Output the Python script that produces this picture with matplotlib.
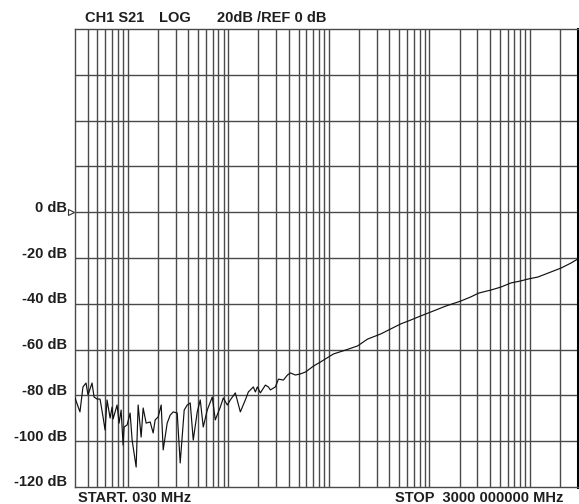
import numpy as np
import matplotlib
matplotlib.use("Agg")
import matplotlib.pyplot as plt
from matplotlib.transforms import blended_transform_factory, offset_copy

# ---- data ----
freq_mhz = [
    0.0300, 0.0336, 0.0360, 0.0386, 0.0404, 0.0443, 0.0464, 0.0497, 0.0532, 0.0570,
    0.0597, 0.0625, 0.0670, 0.0701, 0.0717, 0.0786, 0.0823, 0.0862, 0.0902, 0.0923,
    0.0989, 0.1059, 0.1109, 0.1216, 0.1273, 0.1363, 0.1427, 0.1529, 0.1676, 0.1795,
    0.1879, 0.2013, 0.2157, 0.2258, 0.2474, 0.2651, 0.2840, 0.3112, 0.3333, 0.3653,
    0.3914, 0.4194, 0.4493, 0.4924, 0.5275, 0.5649, 0.6191, 0.6944, 0.7438, 0.8344,
    0.8938, 0.9795, 1.049, 1.177, 1.320, 1.480, 1.586, 1.778, 1.862, 1.949,
    2.088, 2.342, 2.508, 2.626, 2.945, 3.155, 3.539, 3.879, 4.154, 4.660,
    5.226, 5.861, 7.041, 8.268, 11.14, 14.67, 19.32, 24.29, 32.73, 41.17,
    51.80, 65.14, 81.92, 103.0, 145.3, 205.0, 257.8, 309.8, 407.9, 513.1,
    645.3, 811.6, 953.1, 1199.0, 1615.0, 2032.0, 2555.0, 3000.0,
]
s21_db = [
    -81.1, -87.2, -76.3, -74.6, -79.8, -74.6, -80.7, -81.6, -81.6, -89.4,
    -95.1, -82.0, -89.9, -85.1, -90.3, -84.2, -92.1, -86.4, -101.7, -93.8,
    -92.9, -87.7, -99.5, -111.3, -84.2, -98.2, -85.5, -92.1, -91.6, -96.4,
    -90.7, -89.4, -84.2, -103.8, -92.1, -88.6, -87.2, -87.7, -109.5, -86.4,
    -84.2, -83.3, -99.5, -87.2, -82.0, -93.8, -86.4, -80.7, -90.7, -85.1,
    -81.1, -84.2, -82.0, -78.9, -87.2, -82.0, -78.5, -76.3, -78.5, -76.3,
    -78.9, -75.5, -76.3, -77.6, -76.3, -72.9, -73.3, -71.1, -70.2, -71.1,
    -70.6, -69.8, -67.2, -65.4, -61.9, -60.2, -58.4, -55.4, -53.2, -51.0,
    -48.8, -47.1, -45.3, -43.6, -41.0, -38.8, -37.0, -35.3, -34.0, -32.7,
    -30.9, -30.0, -29.2, -28.3, -26.1, -24.4, -22.2, -20.4,
]

f_start, f_stop = 0.03, 3000.0
db_min, db_max, db_step = -120, 80, 20
y_labels = ["0 dB", "-20 dB", "-40 dB", "-60 dB", "-80 dB", "-100 dB", "-120 dB"]
y_label_vals = [0, -20, -40, -60, -80, -100, -120]
title_parts = ["CH1 S21", "LOG", "20dB /REF 0 dB"]
start_text = "START. 030 MHz"
stop_text = "STOP  3000 000000 MHz"

plt.rcParams['font.family'] = ['Liberation Sans', 'DejaVu Sans']

W, H = 579, 504
fig = plt.figure(figsize=(W / 100, H / 100), dpi=100)
fig.patch.set_facecolor("white")
ax = fig.add_axes([75 / W, 17 / H, 503 / W, 458 / H])
ax.set_xscale("log")
ax.set_xlim(f_start, f_stop)
ax.set_ylim(db_min, db_max)

grid_col = "#4a4a4a"
# vertical log grid
for dec in range(-2, 4):
    for m in range(1, 10):
        v = m * 10.0 ** dec
        if f_start < v < f_stop:
            ax.axvline(v, color=grid_col, lw=1.0, zorder=1)
for v in range(db_min + db_step, db_max, db_step):
    ax.axhline(v, color=grid_col, lw=1.0, zorder=1)

ax.plot(freq_mhz, s21_db, color="#111111", lw=0.85, zorder=3)

ax.set_xticks([])
ax.set_yticks([])
ax.minorticks_off()
for side in ["left", "bottom", "top"]:
    ax.spines[side].set_color(grid_col)
    ax.spines[side].set_linewidth(1.0)
ax.spines["right"].set_color("#000000")
ax.spines["right"].set_linewidth(2.2)

fs = 10.5
txt_col = "#1e1e1e"

# y labels
tr = blended_transform_factory(ax.transAxes, ax.transData)
tr_lab = offset_copy(tr, fig=fig, x=-0.08, y=0.045, units="inches")
for lab, v in zip(y_labels, y_label_vals):
    ax.text(0, v, lab, transform=tr_lab, ha="right", va="center",
            fontsize=fs, fontweight="bold", color=txt_col)

# reference marker
ax.plot([-0.008], [0], marker=">", ms=5, mfc="white", mec="#333333", mew=0.8,
        transform=tr, clip_on=False, zorder=4)

# title and footer
fig.text(85 / W, 1 - 18 / H, title_parts[0], ha="left", va="center",
         fontsize=fs, fontweight="bold", color=txt_col)
fig.text(159 / W, 1 - 18 / H, title_parts[1], ha="left", va="center",
         fontsize=fs, fontweight="bold", color=txt_col)
fig.text(217 / W, 1 - 18 / H, title_parts[2], ha="left", va="center",
         fontsize=fs, fontweight="bold", color=txt_col)
fig.text(78 / W, 1 - 498 / H, start_text, ha="left", va="center",
         fontsize=fs, fontweight="bold", color=txt_col)
fig.text(563 / W, 1 - 498 / H, stop_text, ha="right", va="center",
         fontsize=fs, fontweight="bold", color=txt_col)

fig.savefig("out.png", dpi=100, facecolor="white")
